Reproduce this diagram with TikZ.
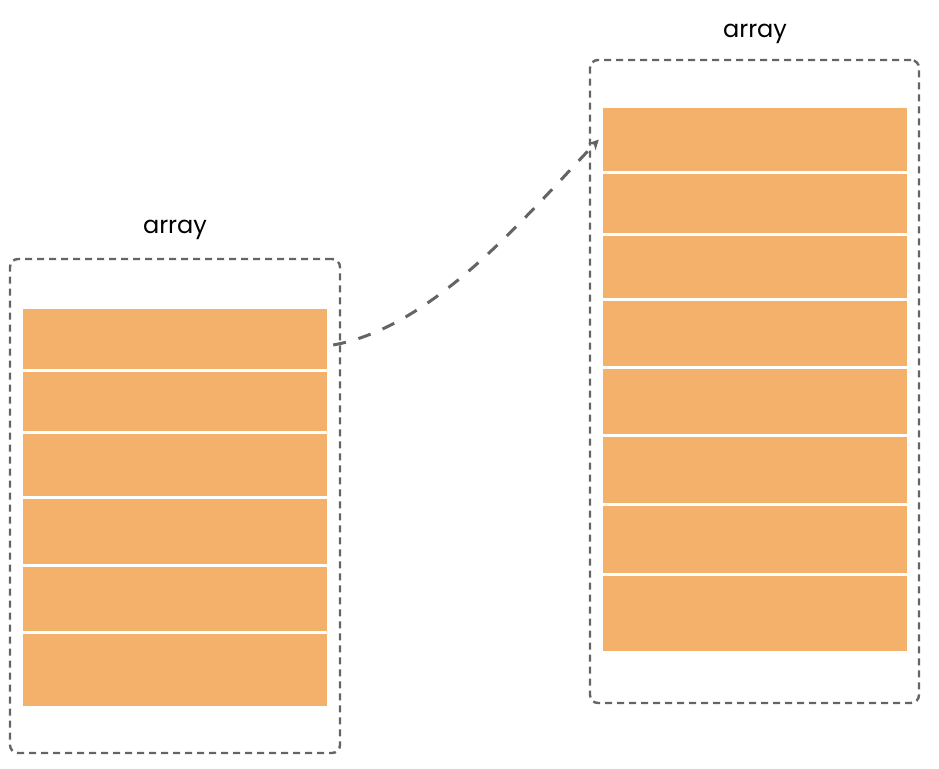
\documentclass[tikz,border=0pt]{standalone}
\usepackage{fontspec}
\setmainfont{Poppins}
\usetikzlibrary{arrows.meta}
\definecolor{cellorange}{RGB}{244,177,107}
\definecolor{dashgray}{RGB}{100,100,100}
\tikzset{
  cell/.style={fill=cellorange, draw=none, inner sep=0pt, minimum width=304pt},
  container/.style={draw=dashgray, line width=2.4pt, dash pattern=on 7pt off 5pt, rounded corners=8pt, inner sep=0pt},
  title/.style={font=\fontsize{24}{28}\selectfont, text=black, inner sep=0pt},
  link/.style={draw=dashgray, line width=3pt, dash pattern=on 13pt off 13pt, -{Stealth[length=10pt,width=10pt,inset=3pt]}}
}
\begin{document}
\begin{tikzpicture}[x=1pt,y=-1pt]
\useasboundingbox (0,0) rectangle (939,768);
% containers
\node[container, minimum width=330pt, minimum height=494pt] (lbox) at (175,506) {};
\node[container, minimum width=329pt, minimum height=643pt] (rbox) at (754.5,381.5) {};
% titles
\node[title] (ltitle) at (175,230) {array};
\node[title] (rtitle) at (755,34) {array};
% left cells
\foreach \n/\t/\b in {1/309/369,2/372/431,3/434/496,4/499/564,5/567/631,6/634/706}{
  \node[cell, minimum height={\b-\t}] (l\n) at (175,{(\t+\b)/2}) {};
}
% right cells
\foreach \n/\t/\b in {1/108/171,2/174/233,3/236/298,4/301/366,5/369/434,6/437/503,7/506/573,8/576/651}{
  \node[cell, minimum height={\b-\t}] (r\n) at (755,{(\t+\b)/2}) {};
}
% connector
\coordinate (start) at ([xshift=6pt,yshift=-6pt]l1.east);
\draw[link] (start) .. controls +(100,-18) and ([xshift=-80pt,yshift=-80pt]r1.west) .. ([xshift=-4pt]r1.west);
\end{tikzpicture}
\end{document}
